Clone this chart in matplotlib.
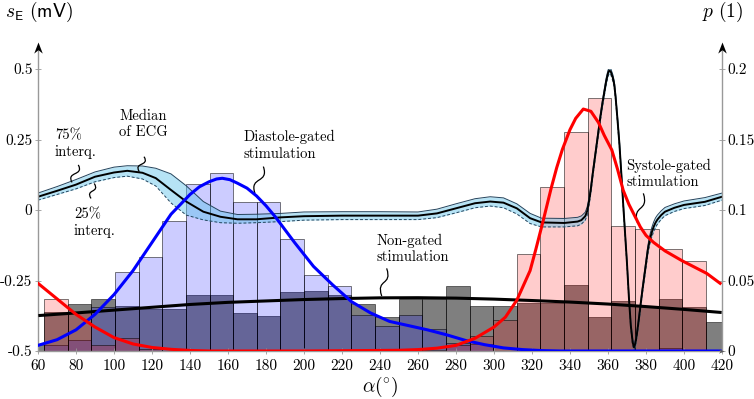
import matplotlib
matplotlib.use('Agg')
import matplotlib.pyplot as plt
import numpy as np
from matplotlib.path import Path
from matplotlib.patches import PathPatch
from matplotlib.lines import Line2D

plt.rcParams['font.family'] = 'cmr10'
plt.rcParams['mathtext.fontset'] = 'cm'
plt.rcParams['axes.unicode_minus'] = False

# ---- histograms (probability per bin), bins of 12.44 deg starting at 50.76 deg
bin_start = 50.76
bin_width = 12.44
p_nongated = [0.004, 0.028, 0.033, 0.037, 0.032, 0.030, 0.030, 0.040, 0.040, 0.0267,
              0.0248, 0.0416, 0.0426, 0.040, 0.033, 0.024, 0.037, 0.037, 0.046, 0.032,
              0.032, 0.034, 0.034, 0.0468, 0.0243, 0.0355, 0.032, 0.0366, 0.031, 0.0208]
p_diastole = [0, 0.004, 0.008, 0.031, 0.056, 0.067, 0.0925, 0.1184, 0.1265, 0.1057,
              0.1057, 0.0797, 0.0539, 0.0461, 0.0255, 0.018, 0.0255, 0.0154, 0.006, 0.005,
              0, 0, 0, 0, 0, 0, 0, 0.0024, 0, 0]
p_systole = [0, 0.037, 0.028, 0.004, 0.009, 0.0015, 0, 0, 0, 0,
             0, 0, 0, 0, 0, 0, 0, 0.001, 0.004, 0.0106,
             0.022, 0.069, 0.1165, 0.1556, 0.1792, 0.0889, 0.0863, 0.0721, 0.064, 0]

# ---- fitted densities
fit_dia_a = [60, 70, 80, 90, 100, 110, 120, 130, 140, 145, 150, 154, 157, 161, 165, 170,
             175, 180, 185, 195, 205, 215, 225, 235, 245, 255, 265, 275, 285, 295, 305,
             315, 325, 335, 350, 380, 419]
fit_dia_p = [0.004, 0.008, 0.015, 0.026, 0.040, 0.057, 0.077, 0.097, 0.111, 0.1165, 0.120,
             0.122, 0.1225, 0.1215, 0.119, 0.1155, 0.110, 0.103, 0.095, 0.077, 0.060, 0.047,
             0.035, 0.027, 0.021, 0.018, 0.015, 0.0115, 0.0075, 0.0045, 0.0022, 0.001,
             0.0003, 0, 0, 0, 0]
fit_sys_a = [60, 70, 80, 90, 100, 110, 120, 130, 140, 150, 200, 250, 260, 270, 280, 290, 300,
             306, 312, 319, 322, 326, 330, 333, 336, 340, 343, 347, 351, 355, 358, 362, 365,
             368, 371, 374, 377, 380, 384, 390, 399, 412, 419]
fit_sys_p = [0.048, 0.037, 0.026, 0.017, 0.0095, 0.005, 0.0025, 0.0012, 0.0004, 0, 0, 0.0005,
             0.001, 0.002, 0.004, 0.009, 0.017, 0.024, 0.036, 0.057, 0.072, 0.093, 0.115,
             0.130, 0.143, 0.157, 0.165, 0.1716, 0.170, 0.162, 0.153, 0.1426, 0.129, 0.114,
             0.104, 0.096, 0.088, 0.082, 0.077, 0.071, 0.064, 0.055, 0.048]
fit_non_a = [61, 80, 100, 120, 140, 160, 180, 200, 220, 240, 260, 280, 300, 320, 340, 360,
             380, 400, 419]
fit_non_p = [0.0252, 0.027, 0.029, 0.031, 0.033, 0.0345, 0.0355, 0.0365, 0.0372, 0.0377,
             0.0378, 0.0375, 0.0368, 0.0358, 0.0347, 0.0333, 0.0315, 0.0295, 0.0274]

# ---- ECG: median and interquartile band (mV)
ecg_a = [60, 70, 80, 90, 100, 107, 115, 122, 130, 138, 147, 156, 165, 175, 188, 200, 220,
         240, 260, 270, 280, 290, 298, 305, 312, 319, 325, 337, 344, 346, 348, 349, 350,
         351, 352, 353, 354, 355, 356, 357, 358, 359, 360, 360.7, 361.5, 362.5, 363.3, 364,
         365, 366, 367, 368, 369, 370, 371, 372, 373, 373.7, 374.5, 375.2, 376, 377, 378,
         379, 380, 381, 382, 383, 384, 385, 386, 388, 390, 395, 400, 411, 420]
ecg_med = [0.047, 0.068, 0.090, 0.118, 0.133, 0.139, 0.132, 0.113, 0.071, 0.030, -0.006,
           -0.024, -0.033, -0.033, -0.026, -0.022, -0.020, -0.020, -0.020, -0.012, 0.006,
           0.024, 0.030, 0.026, 0.006, -0.029, -0.044, -0.046, -0.041, -0.036, -0.022,
           -0.005, 0.030, 0.075, 0.130, 0.180, 0.230, 0.280, 0.330, 0.375, 0.415, 0.455,
           0.485, 0.495, 0.490, 0.470, 0.445, 0.400, 0.320, 0.235, 0.130, 0.020, -0.085,
           -0.190, -0.310, -0.410, -0.470, -0.487, -0.470, -0.440, -0.400, -0.345, -0.290,
           -0.240, -0.190, -0.140, -0.105, -0.080, -0.060, -0.045, -0.034, -0.018, -0.006,
           0.008, 0.018, 0.029, 0.047]
ecg_q25 = [0.035, 0.055, 0.075, 0.100, 0.115, 0.120, 0.110, 0.085, 0.025, -0.018, -0.035,
           -0.045, -0.047, -0.045, -0.041, -0.036, -0.034, -0.034, -0.034, -0.027, -0.010,
           0.008, 0.014, 0.008, -0.014, -0.048, -0.060, -0.060, -0.056, -0.050, -0.036,
           -0.020, 0.016, 0.062, 0.118, 0.168, 0.218, 0.268, 0.318, 0.363, 0.403, 0.443,
           0.474, 0.484, 0.479, 0.458, 0.433, 0.388, 0.308, 0.223, 0.118, 0.008, -0.097,
           -0.202, -0.322, -0.422, -0.482, -0.497, -0.482, -0.452, -0.412, -0.357, -0.302,
           -0.253, -0.204, -0.155, -0.121, -0.097, -0.077, -0.062, -0.050, -0.033, -0.020,
           -0.005, 0.005, 0.016, 0.035]
ecg_q75 = [0.060, 0.083, 0.108, 0.135, 0.152, 0.157, 0.156, 0.148, 0.128, 0.086, 0.030,
           -0.004, -0.016, -0.015, -0.012, -0.007, -0.006, -0.006, -0.007, 0.003, 0.022,
           0.040, 0.047, 0.043, 0.022, -0.012, -0.029, -0.030, -0.026, -0.021, -0.008,
           0.010, 0.044, 0.088, 0.142, 0.192, 0.242, 0.292, 0.342, 0.387, 0.427, 0.467,
           0.496, 0.504, 0.500, 0.481, 0.457, 0.412, 0.332, 0.247, 0.142, 0.032, -0.073,
           -0.178, -0.298, -0.398, -0.458, -0.475, -0.458, -0.428, -0.388, -0.333, -0.278,
           -0.227, -0.176, -0.125, -0.089, -0.063, -0.043, -0.028, -0.018, -0.003, 0.009,
           0.022, 0.032, 0.044, 0.060]

x_ticks = list(range(60, 421, 20))
left_ticks = [-0.5, -0.25, 0, 0.25, 0.5]
left_labels = ['-0.5', '-0.25', '0', '0.25', '0.5']
right_ticks = [0, 0.05, 0.1, 0.15, 0.2]
right_labels = ['0', '0.05', '0.1', '0.15', '0.2']

# annotations: text, text anchor (deg, mV), squiggle top, squiggle bottom
notes = [
    ('75%\ninterq.', (68.9, 0.234), 'left', (81.2, 0.160), (77.9, 0.098)),
    ('Median\nof ECG', (115.6, 0.304), 'center', (115.8, 0.189), (113.3, 0.136)),
    ('Diastole-gated\nstimulation', (167.9, 0.229), 'left', (178.6, 0.154), (174.2, 0.059)),
    ('25%\ninterq.', (78.9, -0.045), 'left', (89.6, 0.094), (87.9, 0.041)),
    ('Non-gated\nstimulation', (237.9, -0.138), 'left', (243.5, -0.207), (240.9, -0.305)),
    ('Systole-gated\nstimulation', (369.8, 0.129), 'left', (378.6, 0.059), (375.6, -0.047)),
]

W, H = 754, 399
fig = plt.figure(figsize=(W / 100, H / 100), dpi=100)
ax = fig.add_axes([38 / W, 48 / H, 684 / W, 282 / H])
axb = ax.twinx()
axf = ax.twinx()
axb.set_zorder(1)
ax.set_zorder(2)
axf.set_zorder(3)
for a in (ax, axb, axf):
    a.patch.set_visible(False)
    for s in a.spines.values():
        s.set_visible(False)

ax.set_xlim(60, 420)
ax.set_ylim(-0.5, 0.5)
axb.set_ylim(0, 0.2)
axf.set_ylim(0, 0.2)

# histograms
lefts = bin_start + bin_width * np.arange(len(p_nongated))
axb.bar(lefts, p_nongated, width=bin_width, align='edge', color=(0, 0, 0, 0.5),
        edgecolor=(0, 0, 0, 0.6), linewidth=0.6)
axb.bar(lefts, p_diastole, width=bin_width, align='edge', color=(0, 0, 1, 0.2),
        edgecolor=(0, 0, 0, 0.6), linewidth=0.6)
axb.bar(lefts, p_systole, width=bin_width, align='edge', color=(1, 0, 0, 0.2),
        edgecolor=(0, 0, 0, 0.6), linewidth=0.6)
axb.set_yticks([])

# ECG band and median
ax.fill_between(ecg_a, ecg_q25, ecg_q75, color='#5ec3ea', alpha=0.45, lw=0)
ax.plot(ecg_a, ecg_q75, color='#24435c', lw=0.7)
ax.plot(ecg_a, ecg_q25, color='#24435c', lw=0.7, ls=(0, (3, 2)))
ax.plot(ecg_a, ecg_med, color='black', lw=1.4)

# fitted curves
axf.plot(fit_non_a, fit_non_p, color='black', lw=2.2)
axf.plot(fit_dia_a, fit_dia_p, color='#0000ff', lw=2.2)
axf.plot(fit_sys_a, fit_sys_p, color='#ff0000', lw=2.2)

# ticks
ax.set_xticks(x_ticks)
ax.set_xticklabels([str(t) for t in x_ticks])
ax.set_yticks(left_ticks)
ax.set_yticklabels(left_labels)
axf.set_yticks(right_ticks)
axf.set_yticklabels(right_labels)
ax.tick_params(axis='x', direction='inout', length=4, width=0.6, color='0.6',
               labelsize=11, pad=4)
ax.tick_params(axis='y', direction='inout', length=5, width=0.6, color='0.6',
               labelsize=11, pad=1.5)
axf.tick_params(axis='y', direction='inout', length=5, width=0.6, color='0.6',
                labelsize=11, pad=1.2)

# axis lines with arrow tips
gray = '0.6'
ax.add_line(Line2D([0, 0], [0, 1.07], transform=ax.transAxes, color=gray, lw=1.0,
                   clip_on=False))
ax.add_line(Line2D([1, 1], [0, 1.07], transform=ax.transAxes, color=gray, lw=1.0,
                   clip_on=False))
ax.add_line(Line2D([0, 1], [0, 0], transform=ax.transAxes, color=gray, lw=1.0,
                   clip_on=False))
tip_up = Path([(0, 0), (-0.5, -1.3), (0, -0.9), (0.5, -1.3), (0, 0)],
              [Path.MOVETO, Path.LINETO, Path.LINETO, Path.LINETO, Path.CLOSEPOLY])
tip_right = Path([(0, 0), (-1.3, 0.5), (-0.9, 0), (-1.3, -0.5), (0, 0)],
                 [Path.MOVETO, Path.LINETO, Path.LINETO, Path.LINETO, Path.CLOSEPOLY])
for xa in (0, 1):
    axf.plot([xa], [1.096], marker=tip_up, markersize=16, color='black', mew=0,
             transform=ax.transAxes, clip_on=False)
axf.plot([1.003], [0], marker=tip_right, markersize=8, color='0.35', mew=0,
         transform=ax.transAxes, clip_on=False)

# annotations with squiggly leaders
for txt, (tx, ty), ha, top, bot in notes:
    axf.text(tx, ty, txt, transform=ax.transData, ha=ha, va='center', fontsize=10.5,
             linespacing=1.25, multialignment='left' if ha == 'left' else 'center')
    x0, y0 = top
    x1, y1 = bot
    s = 3.2
    verts = [(x0, y0), (x0 + s, y0 + 0.65 * (y1 - y0)), (x1 - s, y0 + 0.35 * (y1 - y0)),
             (x1, y1)]
    path = Path(verts, [Path.MOVETO, Path.CURVE4, Path.CURVE4, Path.CURVE4])
    axf.add_patch(PathPatch(path, transform=ax.transData, fill=False, color='black',
                            lw=0.9, clip_on=False))

# axis titles
fig.text(5 / W, 1 - 12 / H, r'$s_{\mathsf{E}}\ \mathsf{(mV)}$', fontsize=14,
         ha='left', va='center')
fig.text(743 / W, 1 - 12 / H, r'$p\ (1)$', fontsize=14, ha='right', va='center')
fig.text(380 / W, 1 - 387 / H, r'$\alpha(^{\circ})$', fontsize=14, ha='center',
         va='center')

fig.savefig('out.png', dpi=100)
